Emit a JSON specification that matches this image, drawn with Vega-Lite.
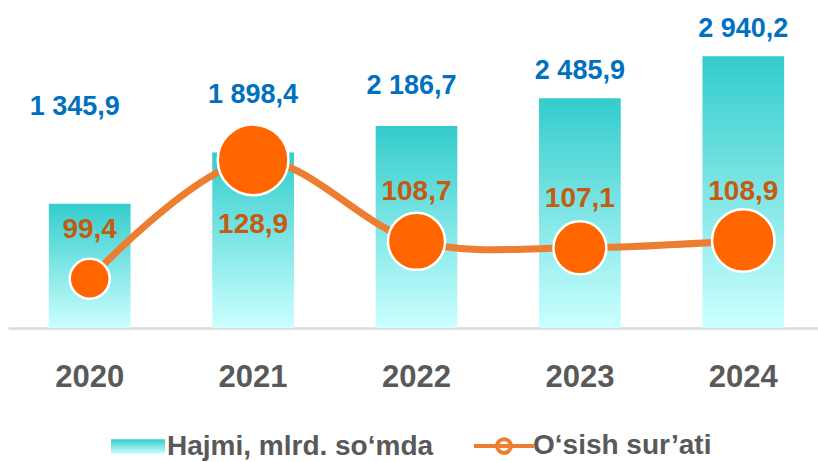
{
  "$schema": "https://vega.github.io/schema/vega-lite/v6.json",
  "width": 817,
  "height": 328,
  "autosize": {"type": "none"},
  "padding": {"left": 8, "top": 0, "right": 0, "bottom": 134},
  "config": {
    "view": {"stroke": null},
    "locale": {"number": {"decimal": ",", "thousands": " ", "grouping": [3], "currency": ["", ""]}}
  },
  "data": {
    "values": [
      {"year": "2020", "hajmi": 1345.9, "osish": 99.4},
      {"year": "2021", "hajmi": 1898.4, "osish": 128.9},
      {"year": "2022", "hajmi": 2186.7, "osish": 108.7},
      {"year": "2023", "hajmi": 2485.9, "osish": 107.1},
      {"year": "2024", "hajmi": 2940.2, "osish": 108.9}
    ]
  },
  "encoding": {
    "x": {
      "field": "year",
      "type": "nominal",
      "sort": null,
      "scale": {"paddingInner": 0.5, "paddingOuter": 0.25},
      "axis": {
        "title": null,
        "labelAngle": 0,
        "ticks": false,
        "grid": false,
        "domainColor": "#D9D9D9",
        "domainWidth": 2.5,
        "labelFont": "Liberation Sans",
        "labelFontWeight": "bold",
        "labelFontSize": 31,
        "labelColor": "#595959",
        "labelPadding": 34
      }
    }
  },
  "layer": [
    {
      "encoding": {
        "y": {"field": "hajmi", "type": "quantitative", "scale": {"domain": [0, 3550]}, "axis": null}
      },
      "layer": [
        {
          "mark": {
            "type": "bar",
            "color": {
              "gradient": "linear",
              "x1": 0, "y1": 0, "x2": 0, "y2": 1,
              "stops": [
                {"offset": 0, "color": "#33CCCC"},
                {"offset": 1, "color": "#CCFFFF"}
              ]
            }
          }
        },
        {
          "transform": [{"filter": "datum.year == '2020'"}],
          "mark": {"type": "text", "baseline": "middle", "dy": -97, "dx": -15, "font": "Liberation Sans", "fontWeight": "bold", "fontSize": 27, "color": "#0070C0"},
          "encoding": {"text": {"field": "hajmi", "type": "quantitative", "format": ",.1f"}}
        },
        {
          "transform": [{"filter": "datum.year == '2021'"}],
          "mark": {"type": "text", "baseline": "middle", "dy": -58, "font": "Liberation Sans", "fontWeight": "bold", "fontSize": 27, "color": "#0070C0"},
          "encoding": {"text": {"field": "hajmi", "type": "quantitative", "format": ",.1f"}}
        },
        {
          "transform": [{"filter": "datum.year == '2022'"}],
          "mark": {"type": "text", "baseline": "middle", "dy": -40, "dx": -5, "font": "Liberation Sans", "fontWeight": "bold", "fontSize": 27, "color": "#0070C0"},
          "encoding": {"text": {"field": "hajmi", "type": "quantitative", "format": ",.1f"}}
        },
        {
          "transform": [{"filter": "datum.year == '2023' || datum.year == '2024'"}],
          "mark": {"type": "text", "baseline": "middle", "dy": -27, "font": "Liberation Sans", "fontWeight": "bold", "fontSize": 27, "color": "#0070C0"},
          "encoding": {"text": {"field": "hajmi", "type": "quantitative", "format": ",.1f"}}
        }
      ]
    },
    {
      "encoding": {
        "y": {"field": "osish", "type": "quantitative", "scale": {"domain": [87.2, 168.6]}, "axis": null}
      },
      "layer": [
        {
          "mark": {"type": "line", "interpolate": "catmull-rom", "strokeWidth": 7},
          "encoding": {
            "stroke": {
              "datum": "O‘sish sur’ati",
              "type": "nominal",
              "scale": {"domain": ["Hajmi, mlrd. so‘mda", "O‘sish sur’ati"], "range": ["#33CCCC", "#ED7D31"]},
              "legend": {
                "orient": "none",
                "legendX": 116,
                "legendY": 432,
                "direction": "horizontal",
                "title": null,
                "padding": 0,
                "symbolSize": 3600,
                "labelFont": "Liberation Sans",
                "labelFontWeight": "bold",
                "labelFontSize": 28,
                "labelColor": "#595959",
                "labelOffset": 15,
                "labelLimit": 500,
                "columnPadding": 32,
                "encode": {
                  "symbols": {
                    "update": {
                      "shape": {"signal": "datum.index === 0 ? 'M-0.9,-0.24H0.9V0.24H-0.9Z' : 'M-1,0H1M-0.23,0A0.23,0.23,0,1,1,0.23,0A0.23,0.23,0,1,1,-0.23,0'"},
                      "fill": [
                        {"test": "datum.index === 0", "value": {"gradient": "linear", "x1": 0, "y1": 0, "x2": 0, "y2": 1, "stops": [{"offset": 0, "color": "#33CCCC"}, {"offset": 1, "color": "#CCFFFF"}]}},
                        {"value": "white"}
                      ],
                      "stroke": {"signal": "datum.index === 0 ? 'transparent' : '#ED7D31'"},
                      "strokeWidth": {"signal": "datum.index === 0 ? 0 : 4"},
                      "opacity": {"value": 1}
                    }
                  }
                }
              }
            }
          }
        },
        {
          "mark": {"type": "point", "shape": "circle", "filled": true, "fill": "#FF6600", "fillOpacity": 1, "stroke": "white", "strokeWidth": 2.5, "opacity": 1},
          "encoding": {
            "size": {
              "field": "year",
              "type": "nominal",
              "scale": {"type": "ordinal", "domain": ["2020", "2021", "2022", "2023", "2024"], "range": [1600, 5000, 3250, 2800, 3900]},
              "legend": null
            }
          }
        },
        {
          "transform": [{"filter": "datum.year != '2021'"}],
          "mark": {"type": "text", "baseline": "middle", "dy": -49, "font": "Liberation Sans", "fontWeight": "bold", "fontSize": 28, "color": "#C55A11"},
          "encoding": {"text": {"field": "osish", "type": "quantitative", "format": ",.1f"}}
        },
        {
          "transform": [{"filter": "datum.year == '2021'"}],
          "mark": {"type": "text", "baseline": "middle", "dy": 65, "font": "Liberation Sans", "fontWeight": "bold", "fontSize": 28, "color": "#C55A11"},
          "encoding": {"text": {"field": "osish", "type": "quantitative", "format": ",.1f"}}
        }
      ]
    }
  ],
  "resolve": {"scale": {"y": "independent"}}
}
